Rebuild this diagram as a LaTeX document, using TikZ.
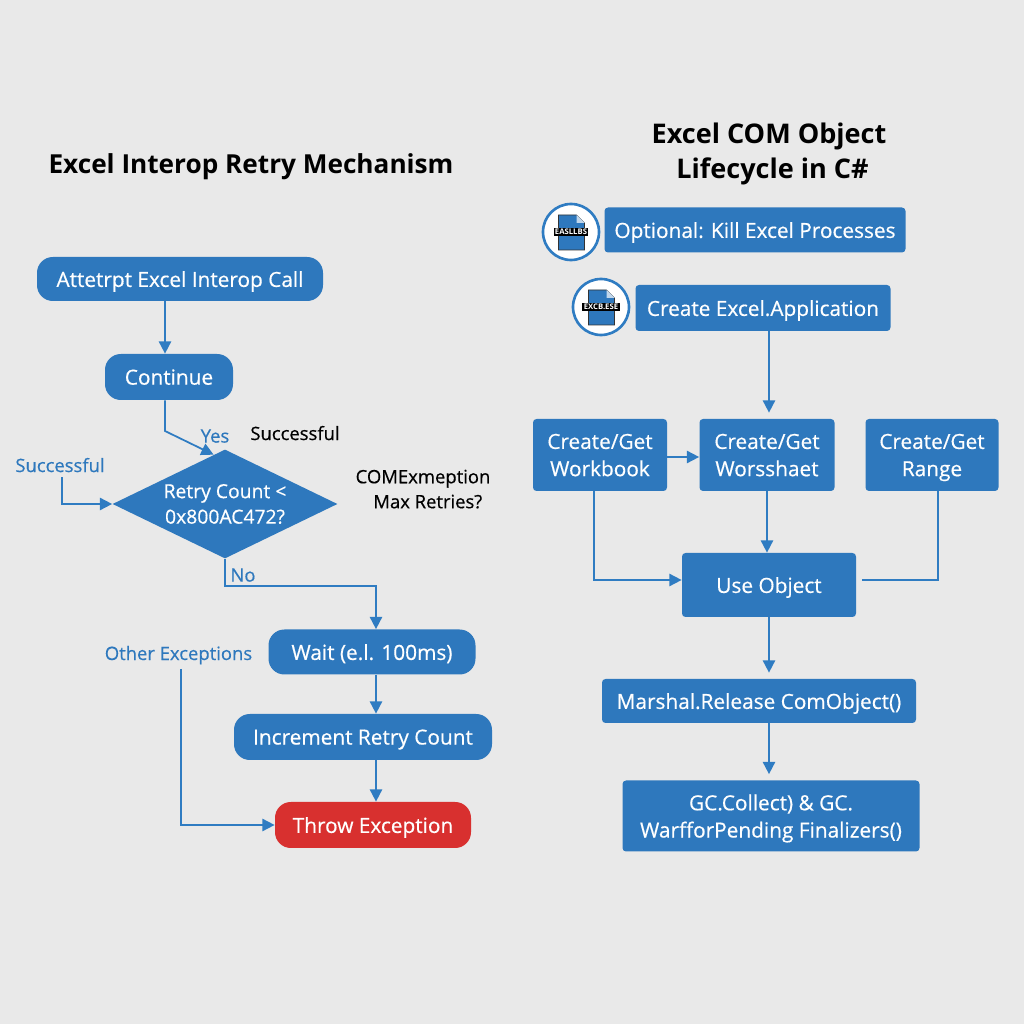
\documentclass[tikz,border=0pt]{standalone}
\usepackage{fontspec}
\setmainfont{Open Sans}
\newfontfamily\mediumfont[FakeBold=0.5]{Open Sans}
\usepackage{xcolor}
\usetikzlibrary{arrows.meta, shapes.geometric, positioning}
\definecolor{boxblue}{HTML}{2E78BD}
\definecolor{lineblue}{HTML}{2F7CC2}
\definecolor{throwred}{HTML}{D8302F}
\definecolor{paper}{HTML}{E9E9E9}

\begin{document}
\begin{tikzpicture}[
  pill/.style = {shape=rectangle, rounded corners=9pt, fill=boxblue, text=white, font=\mediumfont\fontsize{11.85}{14}\selectfont, align=center, inner sep=0pt, text depth=0pt},
  box/.style = {shape=rectangle, rounded corners=2pt, fill=boxblue, text=white, font=\mediumfont\fontsize{11.85}{15.5}\selectfont, align=center, inner sep=0pt, text depth=0pt},
  note/.style = {font=\mediumfont\fontsize{10.5}{14.2}\selectfont, align=center, inner sep=0pt, text depth=0pt},
  bluenote/.style = {note, text=boxblue},
  heading/.style = {font=\bfseries\fontsize{14.9}{20}\selectfont, align=center, inner sep=0pt},
  flow/.style = {draw=lineblue, line width=1pt, -{Triangle[length=7pt, width=7pt]}},
  badge/.style = {shape=circle, draw=lineblue, line width=1.5pt, fill=white, minimum size=1.12cm, inner sep=0pt},
  tag/.style = {fill=black, text=white, font=\fontsize{4.4}{5}\selectfont\bfseries, inner sep=0.8pt},
]
\fill[paper] (0,0) rectangle (20.48,20.48);

% left flow
\node (titleRetry) [heading] at (5.02,17.15) {Excel Interop Retry Mechanism};
\node (attempt) [pill, minimum width=5.72cm, minimum height=0.88cm] at (3.6,14.9) {Attetrpt Excel Interop Call};
\node (continue) [pill, minimum width=2.56cm, minimum height=0.92cm] at (3.38,12.94) {Continue};
\node (retry) [shape=diamond, aspect=2.06, fill=boxblue, text=white, inner sep=0pt, minimum width=4.5cm, minimum height=2.18cm, font=\mediumfont\fontsize{11}{14.5}\selectfont, align=center] at (4.5,10.4) {Retry Count <\\0x800AC472?};
\node (wait) [pill, minimum width=4.14cm, minimum height=0.9cm] at (7.44,7.44) {Wait (e.l. 100ms)};
\node (increment) [pill, minimum width=5.16cm, minimum height=0.92cm] at (7.26,5.74) {Increment Retry Count};
\node (throw) [pill, fill=throwred, minimum width=3.92cm, minimum height=0.92cm] at (7.46,3.98) {Throw Exception};

\node (yesLabel) [bluenote] at (4.3,11.76) {Yes};
\node (successTop) [note] at (5.9,11.82) {Successful};
\node (successLeft) [bluenote] at (1.2,11.18) {Successful};
\node (comLabel) [note] at (8.46,10.7) {COMExmeption\\\ \ Max Retries?};
\node (noLabel) [bluenote] at (4.86,8.98) {No};
\node (otherLabel) [bluenote] at (3.57,7.42) {Other Exceptions};

\coordinate (bendContinue) at (3.3,11.86);
\coordinate (bendNo) at (4.5,8.76);
\coordinate (dropNo) at (7.52,8.76);
\coordinate (dropOther) at (3.62,7.1);

\draw[flow] (attempt.south -| bendContinue) -- (continue.north -| bendContinue);
\draw[flow] (continue.south -| bendContinue) -- (bendContinue) -- (retry.103);
\draw[flow] ([xshift=0.04cm, yshift=-0.1cm]successLeft.south) |- (retry.west);
\draw[flow] (retry.south) -- (bendNo) -- (dropNo) -- (wait.north -| dropNo);
\draw[flow] (wait.south -| dropNo) -- (increment.north -| dropNo);
\draw[flow] (increment.south -| dropNo) -- (throw.north -| dropNo);
\draw[flow] (dropOther) |- (throw.west);

% right flow
\node (titleLife) [heading, font=\bfseries\fontsize{15.4}{20}\selectfont] at (15.38,17.4) {Excel COM Object\\\ Lifecycle in C\#};
\node (optional) [box, minimum width=6.02cm, minimum height=0.9cm] at (15.1,15.88) {Optional: Kill Excel Processes};
\node (createApp) [box, minimum width=5.1cm, minimum height=0.92cm] at (15.26,14.32) {Create Excel.Application};
\node (workbook) [box, minimum width=2.68cm, minimum height=1.44cm] at (12,11.38) {Create/Get\\Workbook};
\node (worksheet) [box, minimum width=2.7cm, minimum height=1.44cm] at (15.34,11.38) {Create/Get\\Worsshaet};
\node (range) [box, minimum width=2.66cm, minimum height=1.44cm] at (18.64,11.38) {Create/Get\\Range};
\node (useObject) [box, minimum width=3.48cm, minimum height=1.28cm] at (15.38,8.78) {Use Object};
\node (marshal) [box, minimum width=6.28cm, minimum height=0.88cm] at (15.18,6.46) {Marshal.Release ComObject()};
\node (collect) [box, minimum width=5.94cm, minimum height=1.42cm] at (15.42,4.16) {GC.Collect) \& GC.\\WarfforPending Finalizers()};

% file badges
\node (badgeKill) [badge] at (11.42,15.84) {};
\node (badgeApp) [badge] at (12.02,14.34) {};
\foreach \badgeName/\badgeText in {badgeKill/EASLLBS, badgeApp/EXCB.ESE} {
  \fill[boxblue, draw=black!80, line width=0.3pt] ([shift={(-0.25,0.34)}]\badgeName.center) -- ++(0.36,0) -- ++(0.16,-0.16) -- ++(0,-0.54) -- ++(-0.52,0) -- cycle;
  \fill[white!70!boxblue] ([shift={(0.11,0.34)}]\badgeName.center) -- ++(0,-0.16) -- ++(0.16,0) -- cycle;
  \node [tag] at (\badgeName.center) {\badgeText};
}

\coordinate (rowArrow) at (15.38,11.34);
\coordinate (dropBook) at (11.88,8.88);
\coordinate (riseRange) at (18.76,8.88);
\coordinate (startRange) at (17.24,8.88);

\draw[flow] (createApp.south -| useObject) -- ([yshift=0.12cm]worksheet.north -| useObject);
\draw[flow] (workbook.east |- rowArrow) -- (worksheet.west |- rowArrow);
\draw[flow] (worksheet.south) -- (worksheet.south |- useObject.north);
\draw[flow] (workbook.south -| dropBook) -- (dropBook) -- (useObject.west |- dropBook);
\draw[draw=lineblue, line width=1pt] (startRange) -- (riseRange) -- (range.south -| riseRange);
\draw[flow] (useObject.south) -- ([yshift=0.12cm]marshal.north -| useObject);
\draw[flow] (marshal.south -| useObject) -- ([yshift=0.12cm]collect.north -| useObject);
\end{tikzpicture}
\end{document}
